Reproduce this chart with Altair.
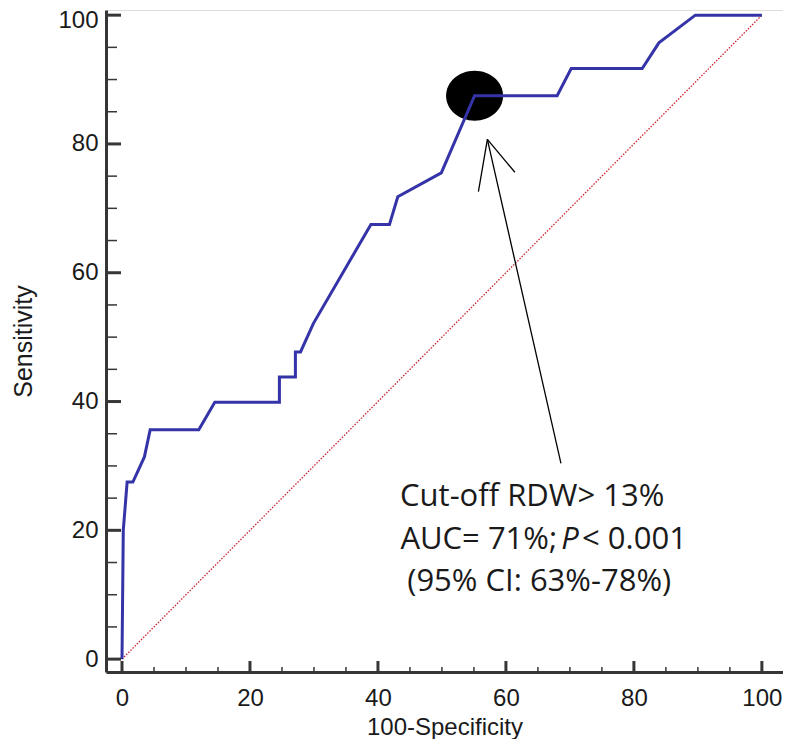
import altair as alt
import pandas as pd

# ROC curve vertices (100-Specificity, Sensitivity)
fpr = [0, 0.2, 0.8, 1.7, 3.5, 4.4, 12.0, 14.5, 24.6, 24.6, 27.1, 27.1, 27.9, 29.9,
       38.9, 41.8, 43.1, 49.9, 55.1, 68.0, 70.2, 81.3, 83.9, 89.6, 100]
sens = [0, 20, 27.5, 27.5, 31.4, 35.6, 35.6, 39.9, 39.9, 43.8, 43.8, 47.7, 47.7, 52.1,
        67.5, 67.5, 71.8, 75.5, 87.5, 87.5, 91.7, 91.7, 95.7, 100, 100]

# reference diagonal
diag_x = [0, 100]
diag_y = [0, 100]

# cut-off point
cut_x = [55.1]
cut_y = [87.5]

# arrow segments (shaft, two barbs)
arrow_x = [68.6, 57.1, 57.1]
arrow_y = [30.4, 80.7, 80.7]
arrow_x2 = [57.1, 55.7, 61.4]
arrow_y2 = [80.7, 72.6, 75.6]

# ticks
major_ticks = [0, 20, 40, 60, 80, 100]
minor_ticks = [5, 10, 15, 25, 30, 35, 45, 50, 55, 65, 70, 75, 85, 90, 95]

# annotation texts
line1 = "Cut-off RDW> 13%"
line2a = "AUC= 71%;"
line2b = "P"
line2c = "< 0.001"
line3 = "(95% CI: 63%-78%)"

W, H = 677, 662
AXC = "#363636"
FONT = "Liberation Sans"
TFONT = "Open Sans"

xs = alt.Scale(domain=[-2.5, 103.3], nice=False, zero=False)
ys = alt.Scale(domain=[-2.0, 100.8], nice=False, zero=False)

roc = pd.DataFrame({"x": fpr, "y": sens, "o": list(range(len(fpr)))})
diag = pd.DataFrame({"x": diag_x, "y": diag_y})
cut = pd.DataFrame({"x": cut_x, "y": cut_y})
arrow = pd.DataFrame({"x": arrow_x, "y": arrow_y, "x2": arrow_x2, "y2": arrow_y2})
maj = pd.DataFrame({"v": major_ticks})
mnr = pd.DataFrame({"v": minor_ticks})

x_axis = alt.Axis(values=major_ticks, ticks=False, tickSize=0, grid=False,
                  domainColor=AXC, domainWidth=3, labelFont=FONT, labelFontSize=24,
                  labelColor="#1a1a1a", labelPadding=14, labelFlush=False,
                  title="100-Specificity", titleFont=FONT, titleFontSize=24,
                  titleFontWeight="normal", titleColor="#1a1a1a",
                  titleX=W / 2, titleY=62, titleAlign="center", titleBaseline="alphabetic")
y_axis = alt.Axis(values=major_ticks, ticks=False, tickSize=0, grid=False,
                  domainColor=AXC, domainWidth=3, labelFont=FONT, labelFontSize=24,
                  labelColor="#1a1a1a", labelPadding=8, labelFlush=False,
                  labelOffset={"condition": {"test": "datum.value === 100", "value": 5}, "value": 0},
                  title="Sensitivity", titleFont=FONT, titleFontSize=25,
                  titleFontWeight="normal", titleColor="#1a1a1a", titleAngle=270,
                  titleX=-83, titleY=H / 2, titleAlign="center", titleBaseline="middle")

diag_layer = alt.Chart(diag).mark_line(color="#cc2233", strokeWidth=1.3, strokeDash=[1.5, 1.5]).encode(
    x=alt.X("x:Q", scale=xs, axis=x_axis),
    y=alt.Y("y:Q", scale=ys, axis=y_axis),
)

ellipse = alt.Chart(cut).mark_point(
    shape="M -1 0 A 1 0.877 0 1 0 1 0 A 1 0.877 0 1 0 -1 0 Z",
    size=3249, filled=True, color="black", opacity=1, strokeWidth=0,
).encode(x=alt.X("x:Q", scale=xs, axis=None), y=alt.Y("y:Q", scale=ys, axis=None))

roc_layer = alt.Chart(roc).mark_line(color="#3434a8", strokeWidth=3).encode(
    x=alt.X("x:Q", scale=xs, axis=None),
    y=alt.Y("y:Q", scale=ys, axis=None),
    order="o:Q",
)

arrow_layer = alt.Chart(arrow).mark_rule(color="black", strokeWidth=1.3).encode(
    x=alt.X("x:Q", scale=xs, axis=None), y=alt.Y("y:Q", scale=ys, axis=None),
    x2="x2:Q", y2="y2:Q",
)

txt = pd.DataFrame({
    "x": [64.1, 68.0, 70.0, 71.9, 65.2],
    "y": [25.2, 18.5, 18.5, 18.5, 12.0],
    "t": [line1, line2a, line2b, line2c, line3],
    "a": ["center", "right", "center", "left", "center"],
    "s": ["normal", "normal", "italic", "normal", "normal"],
})


def text_layer(i):
    row = txt.iloc[[i]]
    return alt.Chart(row).mark_text(
        font=TFONT, fontSize=31, color="#1a1a1a", align=row["a"].iloc[0],
        baseline="middle", fontStyle=row["s"].iloc[0],
    ).encode(x=alt.X("x:Q", scale=xs, axis=None), y=alt.Y("y:Q", scale=ys, axis=None), text="t:N")


texts = [text_layer(i) for i in range(len(txt))]

y_major = alt.Chart(maj).mark_rule(color=AXC, strokeWidth=3).encode(
    y=alt.Y("v:Q", scale=ys, axis=None), x=alt.value(0), x2=alt.value(15))
y_minor = alt.Chart(mnr).mark_rule(color=AXC, strokeWidth=1.5).encode(
    y=alt.Y("v:Q", scale=ys, axis=None), x=alt.value(0), x2=alt.value(11))
x_major = alt.Chart(maj).mark_rule(color=AXC, strokeWidth=3).encode(
    x=alt.X("v:Q", scale=xs, axis=None), y=alt.value(H), y2=alt.value(H - 11))
x_minor = alt.Chart(mnr).mark_rule(color=AXC, strokeWidth=1.5).encode(
    x=alt.X("v:Q", scale=xs, axis=None), y=alt.value(H), y2=alt.value(H - 5))

chart = alt.layer(
    diag_layer, ellipse, roc_layer, arrow_layer, *texts, y_major, y_minor, x_major, x_minor
).resolve_axis(
    x="independent", y="independent"
).properties(
    width=W, height=H,
    autosize=alt.AutoSizeParams(type="none"),
    padding={"left": 98, "top": 2, "right": 0, "bottom": 67},
).configure_view(strokeWidth=0, stroke="transparent").configure(background="white")

chart.save("out.html", embed_options={"renderer": "svg", "actions": False})
